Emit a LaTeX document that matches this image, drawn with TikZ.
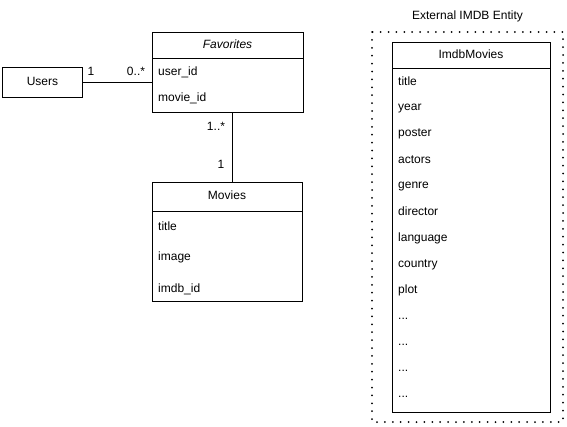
\documentclass[tikz,border=0pt]{standalone}
\usepackage{fontspec}
\setmainfont{Liberation Sans}
\begin{document}
\begin{tikzpicture}[x=1pt,y=-1pt,
  box/.style={draw,line width=1pt,inner sep=0pt,anchor=north west},
  lbl/.style={font=\fontsize{12}{14}\selectfont,inner sep=0pt,text height=8.6pt,text depth=2.6pt},
  item/.style={lbl,anchor=west},
  conn/.style={line width=1pt}]
\useasboundingbox (0,0) rectangle (567,426);
% Users
\node[box,minimum width=80,minimum height=30] (users) at (2,67) {};
\node[lbl] (usersT) at (users.center) {Users};
% Favorites
\node[box,minimum width=151,minimum height=80] (fav) at (152,32) {};
\draw[line width=1pt] (152,58) -- (303,58);
\node[lbl] (favT) at (227.5,45.5) {\itshape Favorites};
\node[item] (f1) at (158,72) {user\_id};
\node[item] (f2) at (158,98) {movie\_id};
% Movies
\node[box,minimum width=150,minimum height=119] (mov) at (152,182) {};
\draw[line width=1pt] (152,211) -- (302,211);
\node[lbl] (movT) at (227,196.5) {Movies};
\node[item] (m1) at (158,227) {title};
\node[item] (m2) at (158,257) {image};
\node[item] (m3) at (158,289) {imdb\_id};
% connectors
\coordinate (c1) at (152,82.5);
\draw[conn] (users.east |- c1) -- (c1);
\node[lbl] (one1) at (91,72) {1};
\node[lbl] (zm) at (136,72) {0..*};
\draw[conn] (232,112) -- (232,182);
\node[lbl] (om) at (216,127) {1..*};
\node[lbl] (one2) at (221,165) {1};
% External
\node[lbl] (extT) at (467.5,16) {External IMDB Entity};
\draw[line width=2pt,line cap=round,dash pattern=on 0pt off 7.9pt] (372,32) rectangle (563,422);
\node[box,minimum width=158,minimum height=370] (imdb) at (392,42) {};
\draw[line width=1pt] (392,68) -- (550,68);
\node[lbl] (imdbT) at (471,55.5) {ImdbMovies};
\foreach \t/\yy [count=\i] in {title/82,year/107,poster/133,actors/160,genre/185,director/212,language/238,country/264,plot/290}
  \node[item] (im\i) at (398,\yy) {\t};
\node[item] (d1) at (398,316) {...};
\node[item] (d2) at (398,342) {...};
\node[item] (d3) at (398,368) {...};
\node[item] (d4) at (398,394) {...};
\end{tikzpicture}
\end{document}
